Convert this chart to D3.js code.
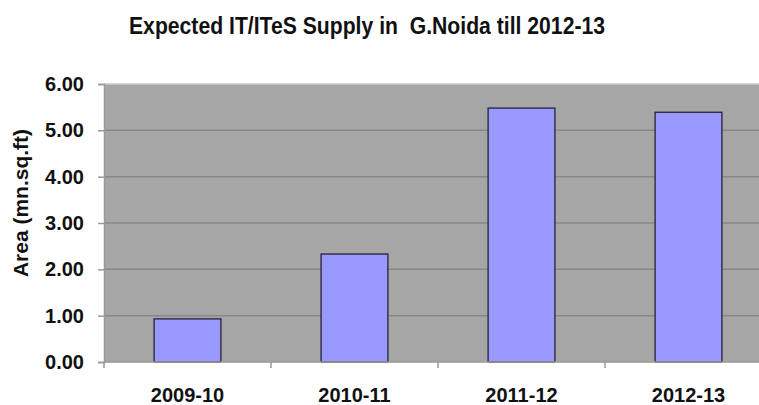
<!DOCTYPE html>
<html>
<head>
<meta charset="utf-8">
<script src="https://cdn.jsdelivr.net/npm/d3@7"></script>
<style>
  body { margin: 0; background: #fff; }
  svg { display: block; font-family: "Liberation Sans", Arial, sans-serif; }
</style>
</head>
<body>
<svg width="759" height="405"></svg>
<script>
// chart data
var years = ["2009-10", "2010-11", "2011-12", "2012-13"];
var supply = [0.93, 2.33, 5.48, 5.39];
var yTicks = [0, 1, 2, 3, 4, 5, 6];
var chartTitle = "Expected IT/ITeS Supply in  G.Noida till 2012-13";
var yTitle = "Area (mn.sq.ft)";

var svg = d3.select("svg"),
    margin = {top: 84, left: 104},
    width = 668,
    height = 278;

var x = d3.scaleBand().domain(years).range([0, width]).paddingInner(0.6).paddingOuter(0.3);
var y = d3.scaleLinear().domain([0, 6]).range([height, 0]);

var g = svg.append("g")
    .attr("transform", "translate(" + margin.left + "," + margin.top + ")");

// plot area
g.append("rect")
    .attr("width", width)
    .attr("height", height)
    .attr("fill", "#a6a6a6");

g.append("line")
    .attr("x1", 0).attr("x2", width)
    .attr("y1", 0).attr("y2", 0)
    .attr("stroke", "#c8c8c8")
    .attr("stroke-width", 1.5);

// gridlines
g.selectAll(".grid")
    .data(yTicks.slice(1, -1))
  .enter().append("line")
    .attr("class", "grid")
    .attr("x1", 0).attr("x2", width)
    .attr("y1", function(d) { return y(d); })
    .attr("y2", function(d) { return y(d); })
    .attr("stroke", "#878787")
    .attr("stroke-width", 1.5);

// bars
g.selectAll(".bar")
    .data(supply)
  .enter().append("rect")
    .attr("class", "bar")
    .attr("x", function(d, i) { return x(years[i]); })
    .attr("y", function(d) { return y(d); })
    .attr("width", x.bandwidth())
    .attr("height", function(d) { return height - y(d); })
    .attr("fill", "#9999ff")
    .attr("stroke", "#22223a")
    .attr("stroke-width", 1.3);

// y axis
var yAxis = g.append("g")
    .call(d3.axisLeft(y).tickValues(yTicks).tickSize(6).tickPadding(14)
      .tickFormat(d3.format(".2f")));
yAxis.select(".domain").attr("stroke", "#999").attr("stroke-width", 1.5);
yAxis.selectAll(".tick line").attr("stroke", "#999").attr("stroke-width", 1.5);
yAxis.selectAll("text")
    .attr("fill", "#111")
    .style("font-size", "20px")
    .style("font-weight", "bold");

// x axis
var bandStep = x.step();
var xAxis = g.append("g")
    .attr("transform", "translate(0," + height + ")");
xAxis.append("line")
    .attr("x1", 0).attr("x2", width)
    .attr("stroke", "#999").attr("stroke-width", 1.5);
xAxis.selectAll(".xtick")
    .data(d3.range(years.length + 1))
  .enter().append("line")
    .attr("class", "xtick")
    .attr("x1", function(i) { return i * bandStep; })
    .attr("x2", function(i) { return i * bandStep; })
    .attr("y1", 0).attr("y2", 6)
    .attr("stroke", "#999").attr("stroke-width", 1.5);
xAxis.selectAll(".xlabel")
    .data(years)
  .enter().append("text")
    .attr("class", "xlabel")
    .attr("x", function(d) { return x(d) + x.bandwidth() / 2; })
    .attr("y", 40)
    .attr("text-anchor", "middle")
    .attr("fill", "#111")
    .style("font-size", "20px")
    .style("font-weight", "bold")
    .text(function(d) { return d; });

// y axis title
svg.append("text")
    .attr("transform", "translate(28,203) rotate(-90)")
    .attr("text-anchor", "middle")
    .attr("fill", "#111")
    .style("font-size", "21px")
    .style("font-weight", "bold")
    .text(yTitle);

// chart title
svg.append("text")
    .attr("x", 129)
    .attr("y", 34)
    .attr("textLength", 476)
    .attr("lengthAdjust", "spacingAndGlyphs")
    .attr("fill", "#111")
    .style("font-size", "24px")
    .style("font-weight", "bold")
    .style("white-space", "pre")
    .text(chartTitle);
</script>
</body>
</html>
